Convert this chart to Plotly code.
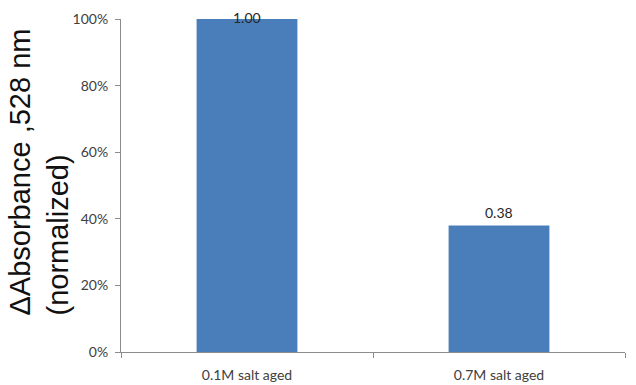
import plotly.graph_objects as go

# Normalized absorbance change at 528 nm for two salt-aging conditions
categories = ["0.1M salt aged", "0.7M salt aged"]
values = [1.00, 0.38]
y_ticks = [0, 0.2, 0.4, 0.6, 0.8, 1.0]
y_tick_labels = ["0%", "20%", "40%", "60%", "80%", "100%"]

bar_color = "#4a7ebb"
axis_color = "#8c8c8c"
label_font = dict(family="Lato, Liberation Sans, sans-serif", size=14, color="#404040")

fig = go.Figure(
    go.Bar(
        x=categories,
        y=values,
        marker=dict(color=bar_color, line=dict(width=0)),
        hoverinfo="skip",
    )
)

# Value labels above each bar; the full-height bar keeps its label inside the frame
for cat, v in zip(categories, values):
    fig.add_annotation(
        x=cat,
        y=v,
        text=f"{v:.2f}",
        showarrow=False,
        yanchor="middle",
        yshift=2 if v >= 0.99 else 13,
        font=dict(family="Lato, Liberation Sans, sans-serif", size=14, color="#262626"),
    )

# Two-line rotated y-axis title
fig.add_annotation(
    xref="paper",
    yref="paper",
    x=-0.162,
    y=0.54,
    text="ΔAbsorbance ,528 nm<br>(normalized)",
    textangle=-90,
    showarrow=False,
    align="left",
    xanchor="center",
    yanchor="middle",
    font=dict(family="Liberation Sans, Arial, sans-serif", size=29, color="#111111"),
)

fig.update_layout(
    width=636,
    height=385,
    margin=dict(l=121, r=11, t=19, b=33),
    paper_bgcolor="white",
    plot_bgcolor="white",
    bargap=0.6,
    showlegend=False,
    xaxis=dict(
        showline=True,
        linecolor=axis_color,
        linewidth=1,
        ticks="outside",
        tickson="boundaries",
        ticklen=5,
        tickcolor=axis_color,
        showgrid=False,
        tickfont=label_font,
        ticklabelstandoff=10,
        automargin=False,
    ),
    yaxis=dict(
        range=[0, 1],
        tickvals=y_ticks,
        ticktext=y_tick_labels,
        showline=True,
        linecolor=axis_color,
        linewidth=1,
        ticks="outside",
        ticklen=5,
        tickcolor=axis_color,
        showgrid=False,
        zeroline=False,
        tickfont=label_font,
        ticklabelstandoff=4,
        automargin=False,
    ),
)

fig.write_html("out.html")
